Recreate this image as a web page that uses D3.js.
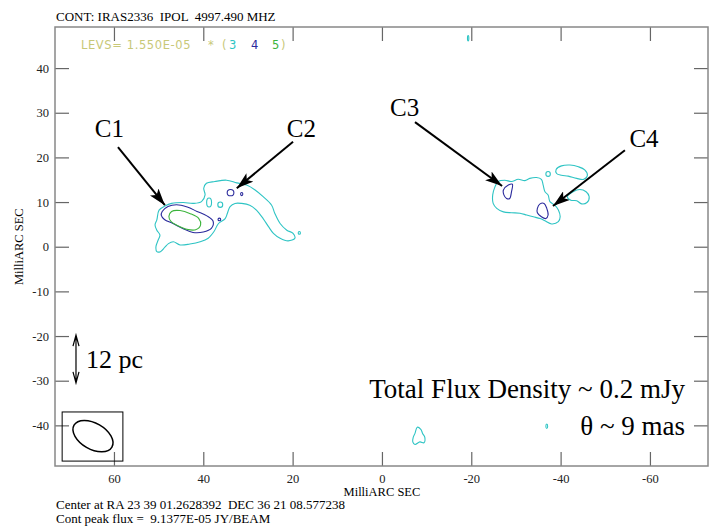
<!DOCTYPE html>
<html>
<head>
<meta charset="utf-8">
<script src="https://cdn.jsdelivr.net/npm/d3@7"></script>
<style>
  body { margin: 0; background: #fff; }
  text { font-family: "Liberation Serif", "Times New Roman", serif; white-space: pre; }
  text.levs { font-family: "DejaVu Sans", sans-serif; }
</style>
</head>
<body>
<svg id="chart" width="720" height="531"></svg>
<script>
// Axis ticks (milliarcsec)
const xTicks = [60, 40, 20, 0, -20, -40, -60];
const yTicks = [40, 30, 20, 10, 0, -10, -20, -30, -40];

// Contour levels: 1.550E-05 * (3 4 5)
const levelColors = { 3: "#2ec4c4", 4: "#2a2a9c", 5: "#3cb43c" };

// Contour outlines, [RA offset, Dec offset] in mas
const c1c2Outer = [[50.4,6.0],[49.9,8.2],[48.6,9.1],[47.1,9.7],[44.5,9.9],[42.2,9.7],[40.4,10.1],[39.6,11.6],[39.9,13.1],[39.3,14.2],[37.4,14.6],[34.8,14.9],[32.5,14.3],[30.3,13.8],[28.4,12.7],[26.6,11.2],[24.7,9.3],[24.0,7.5],[22.8,5.2],[21.3,3.7],[19.9,3.0],[19.5,1.9],[21.0,1.3],[22.8,1.9],[24.3,3.0],[25.4,4.5],[26.6,6.3],[28.1,8.2],[29.6,9.3],[31.4,9.7],[32.9,9.7],[34.0,9.0],[34.6,7.5],[35.1,6.3],[36.6,5.2],[37.6,3.4],[38.9,1.9],[40.7,1.1],[43.0,0.6],[45.2,0.4],[46.7,1.1],[47.8,0.7],[48.6,-0.1],[49.6,-1.1],[50.4,-1.1],[50.6,0.0],[50.1,1.5],[49.7,2.6],[50.4,3.7],[50.8,4.9]];
const c1Mid = [[49.2,7.9],[47.9,9.0],[46.0,9.4],[43.6,8.9],[41.4,7.9],[39.2,6.9],[37.8,5.7],[38.2,4.1],[40.0,3.3],[42.3,3.2],[44.6,4.1],[46.8,5.2],[48.7,6.1],[49.4,7.0]];
const c1Peak = [[47.7,6.8],[47.1,7.9],[45.2,8.1],[42.9,7.4],[41.0,6.3],[40.6,4.9],[41.7,3.8],[43.7,3.9],[45.7,4.7],[47.2,5.6]];
const c3c4Outer = [[-25.3,13.4],[-26.0,14.6],[-27.5,14.9],[-29.0,14.6],[-30.5,15.1],[-32.0,14.8],[-33.1,15.3],[-34.6,15.5],[-35.7,15.1],[-36.1,13.8],[-36.5,12.3],[-37.2,11.6],[-37.6,10.1],[-38.7,9.3],[-39.5,8.2],[-39.9,6.7],[-39.5,5.6],[-38.0,5.1],[-36.5,5.8],[-35.4,6.3],[-33.9,6.7],[-32.4,7.1],[-30.9,7.5],[-29.0,7.6],[-27.2,7.8],[-25.7,8.6],[-24.9,9.7],[-24.8,11.6]];
const c4UpperBlob = [[-39.0,17.3],[-40.2,18.1],[-42.1,18.3],[-44.0,17.9],[-45.4,17.2],[-46.0,16.0],[-45.2,15.1],[-43.6,15.3],[-41.7,15.8],[-40.2,16.0],[-39.1,16.4]];
const c4RightBlob = [[-41.5,11.2],[-42.8,12.3],[-44.3,12.8],[-45.7,12.3],[-46.4,11.2],[-45.9,9.9],[-44.7,9.6],[-43.6,10.3],[-42.3,10.4]];
const c3Mid = [[-27.2,12.7],[-28.3,13.8],[-29.2,14.0],[-29.0,12.3],[-28.6,10.8],[-27.9,10.8],[-27.3,11.6]];
const c4Mid = [[-34.8,8.6],[-35.4,9.6],[-36.3,9.7],[-36.9,8.6],[-37.2,7.1],[-36.7,6.3],[-35.7,6.7],[-34.8,7.6]];
const southBlob = [[-7.4,-41.8],[-7.9,-40.4],[-8.7,-40.9],[-9.1,-41.8],[-9.6,-42.7],[-9.4,-43.9],[-8.5,-43.7],[-7.4,-44.3],[-6.9,-43.7],[-7.0,-42.7]];

const contours = [
  { level: 3, pts: c1c2Outer },
  { level: 3, pts: c3c4Outer },
  { level: 3, pts: c4UpperBlob },
  { level: 3, pts: c4RightBlob },
  { level: 3, pts: southBlob },
  { level: 4, pts: c1Mid },
  { level: 4, pts: c3Mid },
  { level: 4, pts: c4Mid },
  { level: 5, pts: c1Peak }
];

// Tiny closed contours [x, y, rx, ry, level]
const smallContours = [
  [38.7, 9.9, 0.55, 1.0, 3], [36.2, 9.4, 0.55, 0.6, 3], [18.5, 3.1, 0.25, 0.3, 3],
  [-37.2, 16.3, 0.5, 0.55, 3], [-19.3, 46.7, 0.15, 0.6, 3], [-36.9, -40.2, 0.2, 0.5, 3],
  [33.9, 12.1, 0.75, 0.7, 4], [31.4, 11.8, 0.25, 0.35, 4], [36.4, 6.1, 0.3, 0.3, 4]
];

// Component labels and arrows (text pos, arrow start, arrow tip)
const components = ["C1", "C2", "C3", "C4"];
const labelPos = [[64.3, 24.6], [21.3, 24.6], [-1.8, 29.3], [-55.4, 22.4]];
const arrowFrom = [[59.1, 22.3], [19.9, 23.5], [-7.4, 27.9], [-54.4, 21.6]];
const arrowTo = [[48.6, 9.3], [32.5, 13.1], [-26.9, 13.6], [-38.3, 9.1]];

// Beam: centre, semi-axes (mas), position angle; box corners
const beam = { x: 64.7, y: -42.4, a: 4.9, b: 2.9, angle: 30 };
const beamBox = [71.6, -37.0, 58.0, -48.0];
// 12 pc scale bar
const scaleBar = { x: 68.5, y1: -19.8, y2: -30.5 };

const svg = d3.select("#chart");
const margin = { top: 27, right: 12, bottom: 65, left: 55 };
const width = 720 - margin.left - margin.right;
const height = 531 - margin.top - margin.bottom;

const x = d3.scaleLinear().domain([73.2, -73.0]).range([0, width]);
const y = d3.scaleLinear().domain([-49.1, 49.2]).range([height, 0]);
const k = x(0) - x(1);

const g = svg.append("g").attr("transform", `translate(${margin.left},${margin.top})`);

// Header texts
svg.append("text").attr("x", 56).attr("y", 21).attr("font-size", 13)
  .text("CONT: IRAS2336  IPOL  4997.490 MHZ");

const levs = [
  { t: "LEVS= 1.550E-05", x: 81, c: "#c8c878" },
  { t: "*", x: 208, c: "#c8c878" },
  { t: "(", x: 222, c: "#c8c878" },
  { t: "3", x: 229, c: levelColors[3] },
  { t: "4", x: 251, c: levelColors[4] },
  { t: "5", x: 272, c: levelColors[5] },
  { t: ")", x: 281, c: "#c8c878" }
];
svg.append("g").selectAll("text").data(levs).join("text")
  .attr("class", "levs")
  .attr("x", d => d.x).attr("y", 49)
  .attr("font-size", 11.5).attr("letter-spacing", 0.6)
  .attr("fill", d => d.c)
  .text(d => d.t);

// Contours
const line = d3.line().x(d => x(d[0])).y(d => y(d[1])).curve(d3.curveCatmullRomClosed.alpha(0.5));

g.selectAll("path.contour").data(contours).join("path")
  .attr("class", "contour")
  .attr("d", d => line(d.pts))
  .attr("fill", "none")
  .attr("stroke", d => levelColors[d.level])
  .attr("stroke-width", 1.1);

g.selectAll("ellipse.small").data(smallContours).join("ellipse")
  .attr("class", "small")
  .attr("cx", d => x(d[0])).attr("cy", d => y(d[1]))
  .attr("rx", d => d[2] * k).attr("ry", d => d[3] * k)
  .attr("fill", "none")
  .attr("stroke", d => levelColors[d[4]])
  .attr("stroke-width", 1.1);

// Axes (ticks inward on all sides)
const tickLen = 14;
const fmt = d => String(d);
const bottomAxis = g.append("g").attr("transform", `translate(0,${height})`)
  .call(d3.axisBottom(x).tickValues(xTicks).tickFormat(fmt).tickSizeInner(-tickLen).tickSizeOuter(0).tickPadding(8));
const topAxis = g.append("g")
  .call(d3.axisTop(x).tickValues(xTicks).tickSizeInner(-tickLen).tickSizeOuter(0).tickFormat(""));
const leftAxis = g.append("g")
  .call(d3.axisLeft(y).tickValues(yTicks).tickFormat(fmt).tickSizeInner(-tickLen).tickSizeOuter(0).tickPadding(6));
const rightAxis = g.append("g").attr("transform", `translate(${width},0)`)
  .call(d3.axisRight(y).tickValues(yTicks).tickSizeInner(-tickLen).tickSizeOuter(0).tickFormat(""));

[bottomAxis, topAxis, leftAxis, rightAxis].forEach(a => {
  a.select(".domain").remove();
  a.selectAll(".tick line").attr("stroke", "#666").attr("stroke-width", 1.2);
  a.selectAll(".tick text").attr("font-size", 12.5).attr("fill", "#222");
});

g.append("rect").attr("width", width).attr("height", height)
  .attr("fill", "none").attr("stroke", "#888").attr("stroke-width", 1.5);

// Axis titles
svg.append("text").attr("x", margin.left + x(0)).attr("y", 496)
  .attr("text-anchor", "middle").attr("font-size", 12.5).text("MilliARC SEC");
svg.append("text").attr("transform", `translate(23,${margin.top + y(0)}) rotate(-90)`)
  .attr("text-anchor", "middle").attr("font-size", 12.5).text("MilliARC SEC");

// Footer
svg.append("text").attr("x", 56).attr("y", 509).attr("font-size", 13)
  .text("Center at RA 23 39 01.2628392  DEC 36 21 08.577238");
svg.append("text").attr("x", 56).attr("y", 523).attr("font-size", 13)
  .text("Cont peak flux =  9.1377E-05 JY/BEAM");

// Component arrows
svg.append("defs").append("marker")
  .attr("id", "head").attr("markerUnits", "userSpaceOnUse")
  .attr("viewBox", "0 0 17 11").attr("refX", 17).attr("refY", 5.5)
  .attr("markerWidth", 17).attr("markerHeight", 11).attr("orient", "auto")
  .append("path").attr("d", "M0,0 L17,5.5 L0,11 L4,5.5 Z").attr("fill", "#000");

g.selectAll("line.arrow").data(components).join("line")
  .attr("class", "arrow")
  .attr("x1", (d, i) => x(arrowFrom[i][0])).attr("y1", (d, i) => y(arrowFrom[i][1]))
  .attr("x2", (d, i) => x(arrowTo[i][0])).attr("y2", (d, i) => y(arrowTo[i][1]))
  .attr("stroke", "#000").attr("stroke-width", 2)
  .attr("marker-end", "url(#head)");

g.selectAll("text.comp").data(components).join("text")
  .attr("class", "comp")
  .attr("x", (d, i) => x(labelPos[i][0])).attr("y", (d, i) => y(labelPos[i][1]))
  .attr("font-size", 25).text(d => d);

// Beam
g.append("rect")
  .attr("x", x(beamBox[0])).attr("y", y(beamBox[1]))
  .attr("width", x(beamBox[2]) - x(beamBox[0])).attr("height", y(beamBox[3]) - y(beamBox[1]))
  .attr("fill", "none").attr("stroke", "#000").attr("stroke-width", 1);
g.append("ellipse")
  .attr("transform", `translate(${x(beam.x)},${y(beam.y)}) rotate(${beam.angle})`)
  .attr("rx", beam.a * k).attr("ry", beam.b * k)
  .attr("fill", "none").attr("stroke", "#000").attr("stroke-width", 1.5);

// 12 pc scale bar
const sx = x(scaleBar.x), sy1 = y(scaleBar.y1), sy2 = y(scaleBar.y2);
g.append("path")
  .attr("d", `M${sx},${sy1} L${sx},${sy2} M${sx - 3},${sy1 + 11} L${sx},${sy1} L${sx + 3},${sy1 + 11} M${sx - 3},${sy2 - 11} L${sx},${sy2} L${sx + 3},${sy2 - 11}`)
  .attr("fill", "none").attr("stroke", "#000").attr("stroke-width", 1.2);
g.append("text").attr("x", sx + 10).attr("y", (sy1 + sy2) / 2 + 9)
  .attr("font-size", 26).text("12 pc");

// Annotations
svg.append("text").attr("x", 685).attr("y", 398).attr("text-anchor", "end")
  .attr("font-size", 27).text("Total Flux Density ~ 0.2 mJy");
svg.append("text").attr("x", 685).attr("y", 435).attr("text-anchor", "end")
  .attr("font-size", 27).text("θ ~ 9 mas");
</script>
</body>
</html>
